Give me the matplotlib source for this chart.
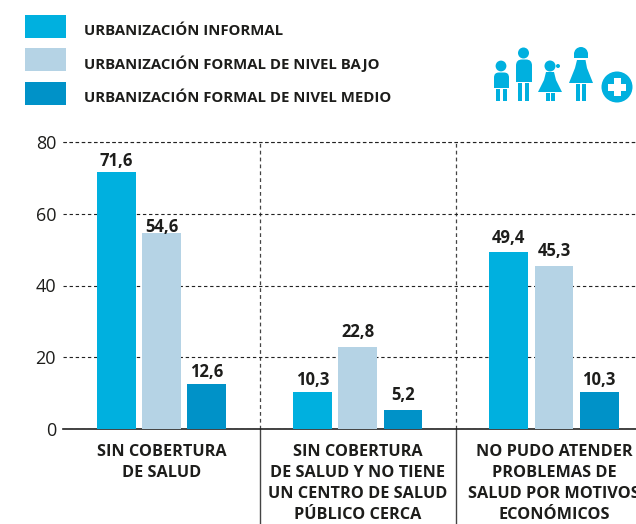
import numpy as np
import matplotlib
matplotlib.use("Agg")
import matplotlib.pyplot as plt
from matplotlib.patches import Circle, Polygon, Rectangle, FancyBboxPatch, Wedge

plt.rcParams['font.family'] = ['Open Sans', 'DejaVu Sans']

W, H = 636, 524

categories = [
    "SIN COBERTURA\nDE SALUD",
    "SIN COBERTURA\nDE SALUD Y NO TIENE\nUN CENTRO DE SALUD\nPÚBLICO CERCA",
    "NO PUDO ATENDER\nPROBLEMAS DE\nSALUD POR MOTIVOS\nECONÓMICOS",
]
informal = [71.6, 10.3, 49.4]
formal_bajo = [54.6, 22.8, 45.3]
formal_medio = [12.6, 5.2, 10.3]
series_names = [
    "URBANIZACIÓN INFORMAL",
    "URBANIZACIÓN FORMAL DE NIVEL BAJO",
    "URBANIZACIÓN FORMAL DE NIVEL MEDIO",
]
colors = ['#00b0df', '#b5d3e5', '#0092c8']
yticks = [0, 20, 40, 60, 80]
# gap between bar top and value label, in points
label_pads = [[1.6, 2.3, 3.7], [-2, 4.5, 4.5], [2.3, 4.5, 2.3]]
text_color = '#1d1d1b'

fig = plt.figure(figsize=(W / 100, H / 100), dpi=100)
ax = fig.add_axes([63 / W, 1 - 429 / H, 1 - 63 / W, (429 - 142) / H])

x = np.arange(len(categories))
offset = 0.2305
bar_w = 0.198
for i, vals in enumerate([informal, formal_bajo, formal_medio]):
    bars = ax.bar(x + (i - 1) * offset, vals, bar_w, color=colors[i],
                  label=series_names[i], zorder=3)
    for xi, v, pad in zip(x + (i - 1) * offset, vals, label_pads[i]):
        ax.annotate(f"{v:.1f}".replace('.', ','), (xi, v), xytext=(0, pad),
                    textcoords='offset points', ha='center', va='bottom',
                    fontsize=12, fontweight='bold', color=text_color, zorder=4)

ax.set_xlim(-0.502, 2.418)
ax.set_ylim(0, 80)
ax.set_yticks(yticks)
ax.set_xticks([])
ax.tick_params(axis='y', length=0, pad=5, labelsize=13, labelcolor=text_color)

for s in ['top', 'right', 'left']:
    ax.spines[s].set_visible(False)
ax.spines['bottom'].set_color('#222222')
ax.spines['bottom'].set_linewidth(1.2)

ax.grid(axis='y', color='#222222', linestyle=(0, (3, 2.5)), linewidth=0.8, zorder=0)
ax.axhline(80, color='#222222', linestyle=(0, (3, 2.5)), linewidth=0.8, clip_on=False, zorder=0)

# separators: dashed inside the plot, solid under the axis
for sep in x[:-1] + 0.5:
    ax.axvline(sep, color='#444444', linestyle=(0, (3, 2.5)), linewidth=0.9, zorder=1)
    ax.plot([sep, sep], [0, -27], color='#444444', linewidth=1.0, clip_on=False, zorder=1)

for xi, cat in zip(x, categories):
    ax.annotate(cat, (xi, 0), xytext=(0, -11), textcoords='offset points',
                ha='center', va='top', fontsize=11.7, fontweight='bold',
                color=text_color, linespacing=1.42, annotation_clip=False)

leg = fig.legend(loc='upper left', bbox_to_anchor=(25 / W, 1 - 15 / H), frameon=False,
                 prop={'size': 10.7, 'weight': 'bold'}, handlelength=2.76,
                 handleheight=2.0, labelspacing=0.7, handletextpad=1.2,
                 borderpad=0, borderaxespad=0, labelcolor=text_color)
for t in leg.get_texts():
    t.set_position((0, -4))

# family icon, in pixel coordinates of the picture
ic = fig.add_axes([0, 0, 1, 1], zorder=5)
ic.set_xlim(0, W)
ic.set_ylim(H, 0)
ic.axis('off')
ic.patch.set_alpha(0)
c = colors[0]


def legs(x0, x1, top, bottom):
    for lx in (x0, x1):
        ic.add_patch(Rectangle((lx, top), 4, bottom - top, color=c, lw=0))


# boy
ic.add_patch(Circle((501, 66), 5.4, color=c, lw=0))
ic.add_patch(FancyBboxPatch((494, 72.5), 15, 12, boxstyle="round,pad=0,rounding_size=5", color=c, lw=0))
ic.add_patch(Rectangle((494, 78), 15, 10, color=c, lw=0))
legs(496, 502.5, 89, 101)
# man
ic.add_patch(Circle((523.5, 53), 5.5, color=c, lw=0))
ic.add_patch(FancyBboxPatch((516, 59.5), 16, 14, boxstyle="round,pad=0,rounding_size=6", color=c, lw=0))
ic.add_patch(Rectangle((516, 67), 16, 15, color=c, lw=0))
legs(518, 525, 83, 101)
# girl
ic.add_patch(Circle((550, 66), 5.5, color=c, lw=0))
ic.add_patch(Circle((558, 66), 2, color=c, lw=0))
ic.add_patch(Polygon([[546, 72], [554, 72], [556, 80], [562, 92], [538, 92], [544, 80]], color=c, lw=0))
legs(545.5, 551, 92.5, 101)
# woman
ic.add_patch(Wedge((581, 54), 7, 180, 360, color=c, lw=0))
ic.add_patch(Rectangle((574, 53), 14, 5, color=c, lw=0))
ic.add_patch(Polygon([[577, 60], [585.5, 60], [587, 68], [593, 83], [569, 83], [575, 68]], color=c, lw=0))
legs(576, 582, 84, 101)
# cross badge
ic.add_patch(Circle((617, 87), 15.5, color=c, lw=0))
ic.add_patch(Rectangle((613.5, 78), 7, 17.5, color='white', lw=0))
ic.add_patch(Rectangle((608, 83.5), 17.5, 7, color='white', lw=0))

fig.savefig('out.png', dpi=100)
